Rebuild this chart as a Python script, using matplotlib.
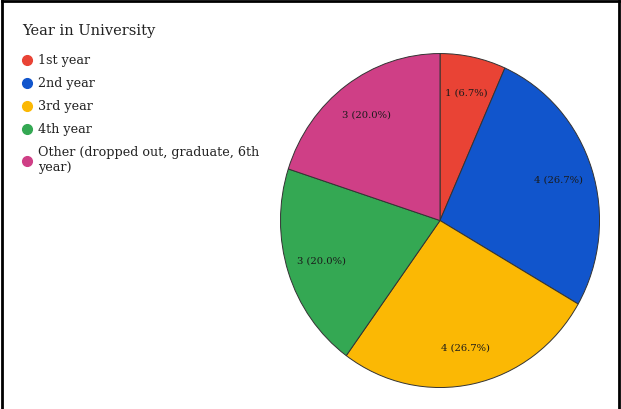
import matplotlib.pyplot as plt
from matplotlib.lines import Line2D

# data
labels = ['1st year', '2nd year', '3rd year', '4th year',
          'Other (dropped out, graduate, 6th\nyear)']
counts = [1, 4, 4, 3, 3]
colors = ['#E94335', '#1155CC', '#FBB804', '#34A853', '#CF3F86']
title = 'Year in University'

plt.rcParams['font.family'] = ['DejaVu Serif']

fig = plt.figure(figsize=(6.21, 4.09), dpi=100)
total = sum(counts)


def fmt(p):
    n = int(round(p * total / 100))
    return f'{n} ({p:.1f}%)'


ax = fig.add_axes([0.4509, 0.0513, 0.5153, 0.819])
wedges, texts, autotexts = ax.pie(
    counts, colors=colors, startangle=90, counterclock=False,
    autopct=fmt, pctdistance=0.78,
    wedgeprops=dict(edgecolor='#333333', linewidth=0.7),
    textprops=dict(fontsize=7.2, color='#1a1a1a'))
ax.set_aspect('auto')
ax.set_xlim(-1.003, 1.003)
ax.set_ylim(-1.003, 1.003)

fig.text(22 / 621, 1 - 31 / 409, title, fontsize=10.5, color='#222222',
         va='center', ha='left')

handles = [Line2D([], [], marker='o', linestyle='none', markersize=7,
                  markerfacecolor=c, markeredgecolor=c) for c in colors]
leg = fig.legend(handles, labels, loc='upper left',
                 bbox_to_anchor=(14 / 621, 1 - 49 / 409), frameon=False,
                 fontsize=9.2, labelspacing=0.78, handletextpad=0.3,
                 handlelength=1.2, borderaxespad=0, labelcolor='#222222')

# border (left, top, right)
for xs, ys in [([0.003, 0.003], [0, 0.997]), ([0.003, 0.996], [0.997, 0.997]),
               ([0.996, 0.996], [0, 0.997])]:
    fig.add_artist(Line2D(xs, ys, color='black', linewidth=2,
                          transform=fig.transFigure))

fig.savefig('out.png', dpi=100)
